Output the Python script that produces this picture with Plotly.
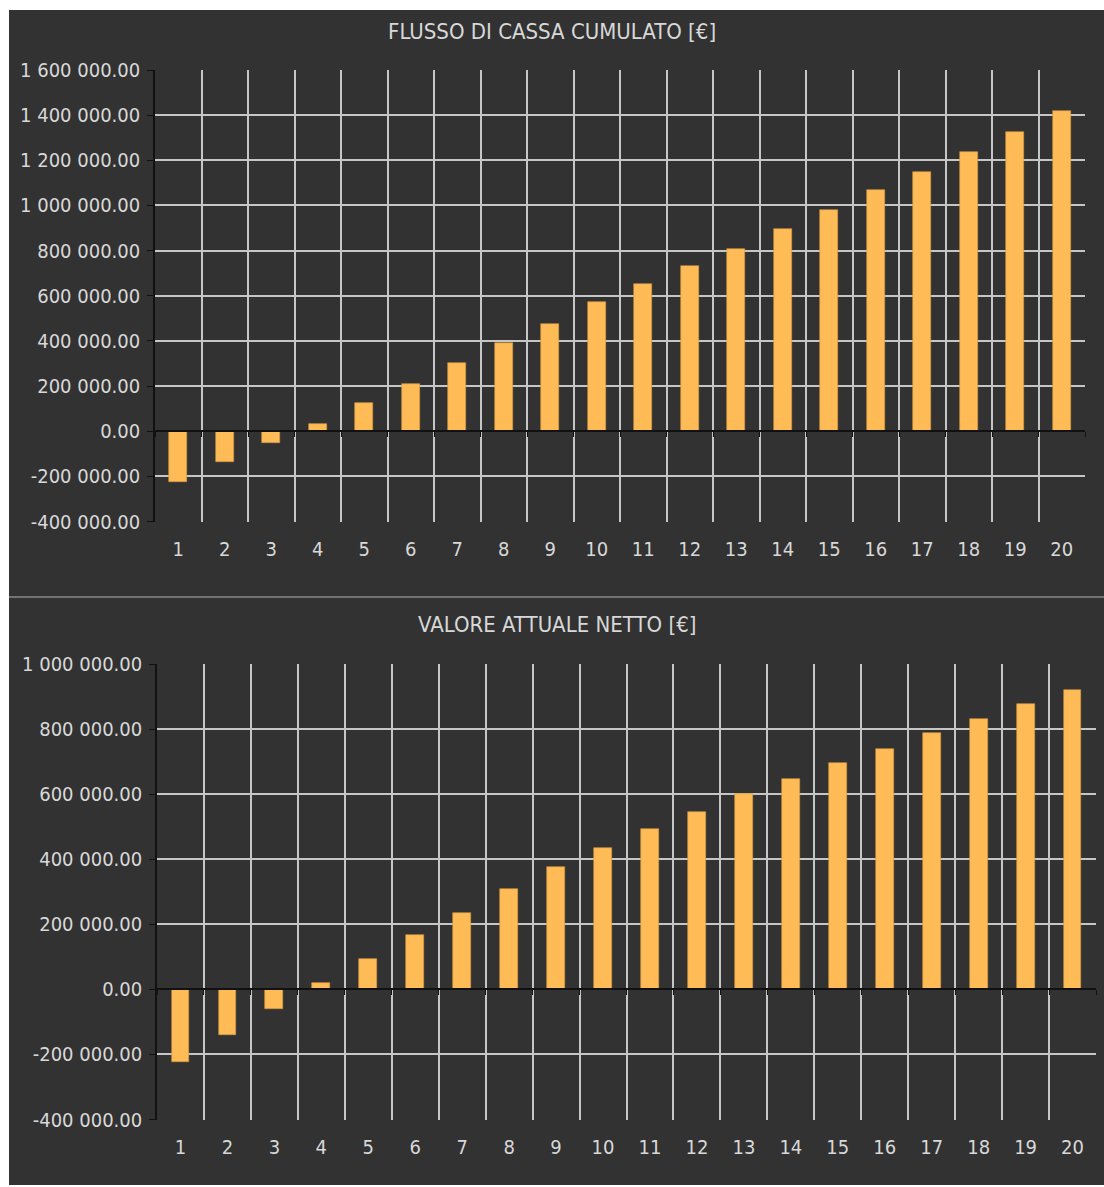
import plotly.graph_objects as go

# ---------------- data ----------------
years = list(range(1, 21))
cumulative_cash_flow = [-223000, -137000, -52000, 34000, 125000, 210000, 301000, 389000,
                        477000, 574000, 653000, 734000, 809000, 896000, 981000, 1069000,
                        1150000, 1235000, 1326000, 1417000]
net_present_value = [-222700, -140600, -61500, 18500, 93000, 167000, 236000, 308000,
                     375000, 436000, 492000, 546000, 600000, 647000, 695000, 739000,
                     788000, 832000, 876000, 920000]
title_top = "FLUSSO DI CASSA CUMULATO [€]"
title_bottom = "VALORE ATTUALE NETTO [€]"
yticks_top = [-400000, -200000, 0, 200000, 400000, 600000, 800000, 1000000,
              1200000, 1400000, 1600000]
yticks_bottom = [-400000, -200000, 0, 200000, 400000, 600000, 800000, 1000000]

# ---------------- style ----------------
W, H = 1104, 1187
BG = "#323232"
BAR = "#FFBB55"
GRID = "#c6c6c6"
TXT = "#d8d8d8"
FONT = "DejaVu Sans Condensed, DejaVu Sans, sans-serif"


def fx(px):
    return px / W


def fy(px):
    return 1 - px / H


def fmt(v):
    return f"{v:,.2f}".replace(",", " ")


boundaries = [y - 0.5 for y in years] + [years[-1] + 0.5]
xrange_ = [years[0] - 0.5, years[-1] + 0.5]

fig = go.Figure()
fig.add_trace(go.Bar(x=years, y=cumulative_cash_flow, width=0.38, xaxis="x", yaxis="y",
                     marker=dict(color=BAR, line=dict(color="#d89a40", width=0.6)),
                     showlegend=False))
fig.add_trace(go.Bar(x=years, y=net_present_value, width=0.38, xaxis="x2", yaxis="y2",
                     marker=dict(color=BAR, line=dict(color="#d89a40", width=0.6)),
                     showlegend=False))
# helper traces so the zero-line axes (x3, x4) get drawn
fig.add_trace(go.Scatter(x=years, y=[0] * len(years), xaxis="x3", yaxis="y", mode="lines",
                         line=dict(width=0), opacity=0, hoverinfo="skip", showlegend=False))
fig.add_trace(go.Scatter(x=years, y=[0] * len(years), xaxis="x4", yaxis="y2", mode="lines",
                         line=dict(width=0), opacity=0, hoverinfo="skip", showlegend=False))

panels = [
    dict(x="x", y="y", xd=[fx(155), fx(1085)], yd=[fy(521.5), fy(70)], ticks=yticks_top),
    dict(x="x2", y="y2", xd=[fx(157), fx(1096)], yd=[fy(1119.5), fy(664)], ticks=yticks_bottom),
]

layout = dict(
    template="none",
    width=W, height=H, autosize=False,
    paper_bgcolor="white", plot_bgcolor=BG,
    margin=dict(l=0, r=0, t=0, b=0, pad=0),
    font=dict(family=FONT, color=TXT, size=20),
    showlegend=False,
    bargap=0,
)

for i, p in enumerate(panels):
    xa = "xaxis" if p["x"] == "x" else "xaxis2"
    ya = "yaxis" if p["y"] == "y" else "yaxis2"
    ymin, ymax = p["ticks"][0], p["ticks"][-1]
    layout[xa] = dict(
        domain=p["xd"], anchor=p["y"], range=xrange_, automargin=False,
        tickmode="array", tickvals=years, ticktext=[str(y) for y in years],
        ticks="", showgrid=False, zeroline=False, showline=False,
        tickfont=dict(size=20, color=TXT, family=FONT),
        ticklabelstandoff=13,
        minor=dict(tickmode="array", tickvals=boundaries, showgrid=True,
                   gridcolor=GRID, gridwidth=1.6, ticks=""),
    )
    layout[ya] = dict(
        domain=p["yd"], anchor=p["x"], range=[ymin, ymax], automargin=False,
        tickmode="array", tickvals=p["ticks"], ticktext=[fmt(v) for v in p["ticks"]],
        showgrid=True, gridcolor=GRID, gridwidth=1.6,
        zeroline=False, showline=True, linecolor="#111111", linewidth=1.6,
        ticks="outside", ticklen=6, tickcolor="#111111", tickwidth=1.4,
        tickfont=dict(size=20, color=TXT, family=FONT),
        ticklabelstandoff=3,
    )
    # overlay axis drawn at y = 0 (black zero line with boundary ticks)
    zero_pos = p["yd"][0] + (0 - ymin) / (ymax - ymin) * (p["yd"][1] - p["yd"][0])
    name = "xaxis3" if i == 0 else "xaxis4"
    layout[name] = dict(
        overlaying=p["x"], anchor="free", position=zero_pos, domain=p["xd"],
        range=xrange_, automargin=False, tickmode="array", tickvals=boundaries,
        showticklabels=False, ticks="outside", ticklen=5, tickcolor="#111111", tickwidth=1.4,
        showline=True, linecolor="#111111", linewidth=1.8,
        showgrid=False, zeroline=False,
    )

fig.update_layout(**layout)

# background panel, separator, titles
fig.add_shape(type="rect", xref="paper", yref="paper", x0=fx(9), x1=1, y0=fy(1185), y1=fy(10),
              fillcolor=BG, line=dict(width=0), layer="below")
fig.add_shape(type="line", xref="paper", yref="paper", x0=fx(9), x1=1, y0=fy(597), y1=fy(597),
              line=dict(color="#8a8a8a", width=1.5))
fig.add_annotation(text=title_top, xref="paper", yref="paper", x=fx(552), y=fy(31),
                   showarrow=False, font=dict(size=22, color=TXT, family=FONT),
                   xanchor="center", yanchor="middle")
fig.add_annotation(text=title_bottom, xref="paper", yref="paper", x=fx(557), y=fy(624),
                   showarrow=False, font=dict(size=22, color=TXT, family=FONT),
                   xanchor="center", yanchor="middle")

post = ("document.documentElement.style.margin='0';document.body.style.margin='0';"
        "document.body.style.padding='0';document.body.style.overflow='hidden';"
        "var d=document.getElementById('{plot_id}');d.style.position='absolute';"
        "d.style.left='0px';d.style.top='0px';")
fig.write_html("out.html", post_script=post, config={"displayModeBar": False})
